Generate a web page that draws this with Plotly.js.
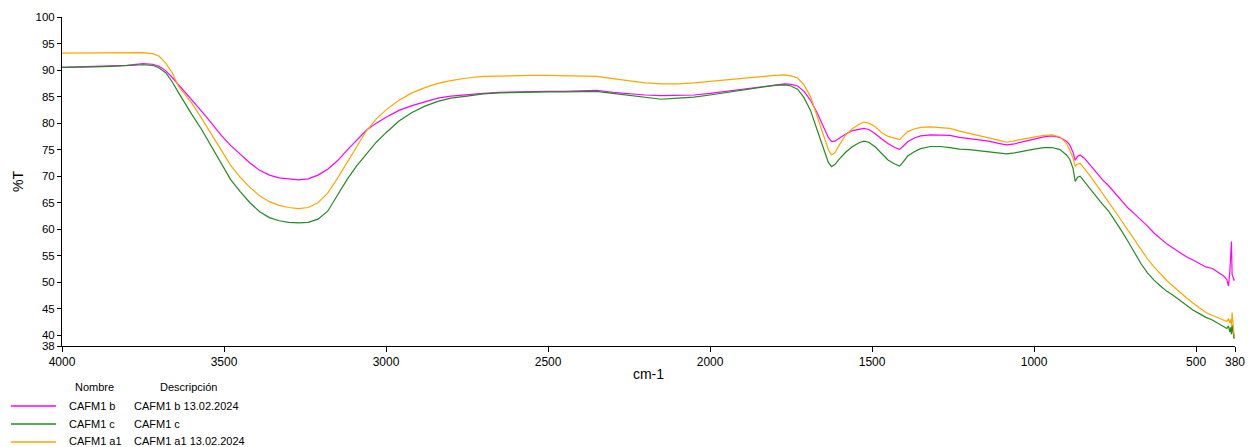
<!DOCTYPE html>
<html>
<head>
<meta charset="utf-8">
<script src="https://cdn.plot.ly/plotly-3.0.1.min.js"></script>
<style>html,body{margin:0;padding:0;background:#fff;}#chart{width:1248px;height:447px;}</style>
</head>
<body>
<div id="chart"></div>
<script>
// Wavenumbers (cm-1)
var wavenumber = [4000,3950,3900,3850,3800,3750,3720,3700,3680,3660,3640,3620,3600,3570,3540,3510,3480,3450,3420,3390,3360,3330,3300,3270,3240,3210,3180,3150,3120,3090,3060,3030,3000,2960,2920,2880,2840,2800,2750,2700,2650,2600,2550,2500,2450,2400,2350,2300,2250,2200,2150,2100,2050,2000,1950,1900,1850,1800,1770,1750,1730,1710,1690,1670,1650,1635,1625,1615,1600,1580,1560,1540,1525,1510,1490,1470,1450,1430,1415,1405,1390,1370,1350,1320,1290,1260,1230,1200,1170,1140,1110,1085,1060,1030,1000,970,945,920,900,890,880,873,866,858,845,830,810,790,770,750,730,710,690,670,650,630,610,590,570,550,530,510,490,470,450,430,415,405,400,396,393,391,389,386,383,380];

// %T, CAFM1 b
var cafm1_b = [90.5,90.6,90.8,90.8,90.9,91.2,91.1,90.7,89.9,88.6,87.2,86.0,84.6,82.3,80.1,77.8,75.8,74.1,72.5,71.1,70.2,69.7,69.5,69.3,69.5,70.2,71.3,72.9,74.9,76.9,78.7,80.0,81.1,82.4,83.3,84.0,84.7,85.1,85.4,85.6,85.8,85.9,85.9,86.0,86.0,86.1,86.2,85.8,85.5,85.3,85.2,85.2,85.3,85.6,86.0,86.4,86.9,87.3,87.4,87.3,87.0,86.0,84.3,82.0,79.3,77.3,76.5,76.6,77.2,78.0,78.6,78.9,79.0,78.8,78.0,77.0,76.1,75.4,75.05,75.6,76.5,77.2,77.6,77.8,77.8,77.7,77.3,77.1,76.9,76.6,76.2,75.9,76.1,76.6,77.0,77.4,77.6,77.3,76.6,75.9,74.5,73.0,73.7,74.0,73.4,72.3,70.8,69.4,68.2,66.8,65.4,64.0,62.9,61.8,60.6,59.3,58.2,57.2,56.4,55.6,54.8,54.2,53.6,52.9,52.6,51.8,51.2,50.5,49.3,52.0,55.5,57.7,51.5,51.0,50.4,50.5];

// %T, CAFM1 c
var cafm1_c = [90.5,90.5,90.6,90.7,90.8,91.0,90.9,90.4,89.5,87.8,85.7,83.6,81.7,78.9,75.8,72.5,69.4,67.1,65.0,63.3,62.2,61.6,61.3,61.2,61.3,61.9,63.4,66.4,69.4,72.0,74.3,76.4,78.2,80.4,82.0,83.2,84.1,84.7,85.1,85.5,85.7,85.8,85.9,85.9,85.9,86.0,86.0,85.6,85.2,84.9,84.5,84.7,84.9,85.3,85.8,86.3,86.7,87.1,87.2,87.0,86.4,84.8,82.4,78.8,75.0,72.6,71.8,72.2,73.3,74.6,75.6,76.3,76.6,76.4,75.5,74.2,73.0,72.3,71.9,72.6,73.8,74.6,75.2,75.6,75.6,75.4,75.1,75.0,74.8,74.6,74.3,74.2,74.4,74.8,75.1,75.4,75.4,75.0,74.0,73.2,71.5,69.0,69.8,70.0,69.0,67.8,66.2,64.8,63.4,61.6,59.7,57.7,55.6,53.5,51.8,50.4,49.3,48.3,47.5,46.6,45.7,44.8,44.1,43.4,42.9,42.2,41.6,41.3,41.8,40.6,41.5,40.2,42.0,40.3,39.4,40.2];

// %T, CAFM1 a1
var cafm1_a1 = [93.2,93.2,93.3,93.3,93.3,93.3,93.1,92.6,91.3,89.5,86.9,85.4,83.8,81.0,78.1,75.0,72.1,69.8,67.9,66.3,65.2,64.5,64.1,63.9,64.1,65.0,66.8,69.6,72.6,75.6,78.6,80.8,82.5,84.3,85.7,86.7,87.5,88.0,88.5,88.8,88.9,89.0,89.0,89.0,88.9,88.9,88.8,88.4,88.0,87.6,87.4,87.4,87.6,87.9,88.2,88.5,88.8,89.0,89.1,88.9,88.5,87.2,85.0,81.5,77.6,75.0,74.0,74.4,76.0,77.9,79.0,79.8,80.2,80.0,79.3,78.2,77.5,77.1,76.9,77.5,78.4,78.9,79.2,79.3,79.2,79.0,78.5,78.1,77.7,77.3,76.8,76.4,76.7,77.1,77.4,77.7,77.8,77.4,76.2,75.0,73.5,71.9,72.3,72.4,71.5,70.3,68.6,66.9,65.2,63.4,61.6,59.8,58.0,56.1,54.4,52.9,51.5,50.3,49.2,48.1,47.1,46.1,45.2,44.3,43.8,43.3,43.0,42.6,43.2,42.3,43.0,42.0,44.3,41.5,40.2,39.6];

var seriesNames = ["CAFM1 b","CAFM1 c","CAFM1 a1"];
var seriesDescriptions = ["CAFM1 b 13.02.2024","CAFM1 c","CAFM1 a1 13.02.2024"];
var seriesColors = ["#ff00ff","#228b22","#ffa500"];
var xTickVals = [4000,3500,3000,2500,2000,1500,1000,500,380];
var yTickVals = [38,40,45,50,55,60,65,70,75,80,85,90,95,100];

var W = 1248, H = 447;
var M = {l:62, r:13, t:17, b:101};
var pw = W - M.l - M.r, ph = H - M.t - M.b;
function px2x(px){ return (px - M.l)/pw; }
function py2y(py){ return (H - M.b - py)/ph; }

var font = "Liberation Sans, Arial, sans-serif";
var ys = [cafm1_b, cafm1_c, cafm1_a1];
var traces = ys.map(function(y,i){
  return {x: wavenumber, y: y, type:'scatter', mode:'lines', name: seriesNames[i],
          line:{color: seriesColors[i], width:1.2}, hoverinfo:'skip'};
});

var annotations = [];
var shapes = [];
annotations.push({xref:'paper',yref:'paper',x:px2x(73),y:py2y(387),xanchor:'left',yanchor:'middle',text:'Nombre',showarrow:false,font:{family:font,size:11,color:'#000'}});
annotations.push({xref:'paper',yref:'paper',x:px2x(158),y:py2y(387),xanchor:'left',yanchor:'middle',text:'Descripción',showarrow:false,font:{family:font,size:11,color:'#000'}});
var rowY = [405.5, 423.5, 440.5];
var lineY = [406, 424, 442];
for (var i=0;i<seriesNames.length;i++){
  shapes.push({type:'line',xref:'paper',yref:'paper',x0:px2x(11),x1:px2x(56),y0:py2y(lineY[i]),y1:py2y(lineY[i]),line:{color:seriesColors[i],width:1.5}});
  annotations.push({xref:'paper',yref:'paper',x:px2x(67),y:py2y(rowY[i]),xanchor:'left',yanchor:'middle',text:seriesNames[i],showarrow:false,font:{family:font,size:11,color:'#000'}});
  annotations.push({xref:'paper',yref:'paper',x:px2x(132),y:py2y(rowY[i]),xanchor:'left',yanchor:'middle',text:seriesDescriptions[i],showarrow:false,font:{family:font,size:11,color:'#000'}});
}

var layout = {
  width:W, height:H,
  margin:{l:M.l, r:M.r, t:M.t, b:M.b, pad:0},
  paper_bgcolor:'#fff', plot_bgcolor:'#fff',
  showlegend:false,
  font:{family:font, size:12, color:'#000'},
  xaxis:{
    range:[4000,380], autorange:false,
    tickmode:'array', tickvals:xTickVals, ticktext:xTickVals.map(String),
    showgrid:false, zeroline:false, showline:true, linecolor:'#000', linewidth:1,
    ticks:'outside', ticklen:5, tickcolor:'#000', tickfont:{family:font,size:12,color:'#000'},
    title:{text:'cm-1', font:{family:font,size:14,color:'#000'}, standoff:0}
  },
  yaxis:{
    range:[38,100], autorange:false,
    tickmode:'array', tickvals:yTickVals, ticktext:yTickVals.map(String),
    showgrid:false, zeroline:false, showline:true, linecolor:'#000', linewidth:1,
    ticks:'outside', ticklen:4, tickcolor:'#000', tickfont:{family:font,size:11.5,color:'#000'},
    title:{text:'%T', font:{family:font,size:14,color:'#000'}, standoff:8}
  },
  annotations: annotations,
  shapes: shapes
};

Plotly.newPlot('chart', traces, layout, {displayModeBar:false, staticPlot:true});
</script>
</body>
</html>
